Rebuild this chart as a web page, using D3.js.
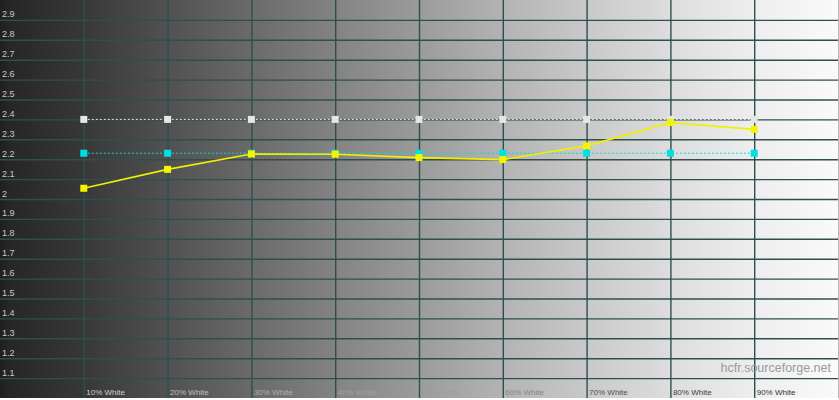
<!DOCTYPE html>
<html>
<head>
<meta charset="utf-8">
<script src="https://cdn.jsdelivr.net/npm/d3@7"></script>
<style>
  html, body { margin: 0; padding: 0; background: #ffffff; }
  svg { display: block; }
</style>
</head>
<body>
<svg id="chart" width="839" height="400"></svg>
<script>
// ---- data ----
const categories = ["10% White","20% White","30% White","40% White","50% White","60% White","70% White","80% White","90% White"];
const levels = [10, 20, 30, 40, 50, 60, 70, 80, 90];
const measuredGamma = [2.054, 2.149, 2.226, 2.225, 2.208, 2.198, 2.267, 2.384, 2.350];
const referenceGamma = [2.23, 2.23, 2.23, 2.23, 2.23, 2.23, 2.23, 2.23, 2.23];
const targetGamma = [2.4, 2.4, 2.4, 2.4, 2.4, 2.4, 2.4, 2.4, 2.4];
const yTicks = [2.9, 2.8, 2.7, 2.6, 2.5, 2.4, 2.3, 2.2, 2.1, 2.0, 1.9, 1.8, 1.7, 1.6, 1.5, 1.4, 1.3, 1.2, 1.1];
const yTickLabels = ["2.9","2.8","2.7","2.6","2.5","2.4","2.3","2.2","2.1","2","1.9","1.8","1.7","1.6","1.5","1.4","1.3","1.2","1.1"];
const watermark = "hcfr.sourceforge.net";

// ---- layout ----
const W = 838, H = 398;
const svg = d3.select("#chart");
const x = d3.scaleLinear().domain([0, 100]).range([0, W]);
const y = d3.scaleLinear().domain([3.0, 1.0]).range([0, H]);

// background gradient
const defs = svg.append("defs");
const grad = defs.append("linearGradient").attr("id", "bg").attr("x1", "0%").attr("x2", "100%").attr("y1", "0%").attr("y2", "0%");
const bgStops = [[0, "#1f1f1f"], [1, "#262626"], [10, "#383838"], [20, "#515151"], [30, "#6a6a6a"], [40, "#838383"], [50, "#9b9b9b"], [60, "#b3b3b3"], [70, "#c9c9c9"], [80, "#dddddd"], [90, "#eeeeee"], [100, "#fafafa"]];
bgStops.forEach(s => grad.append("stop").attr("offset", s[0] + "%").attr("stop-color", s[1]));
svg.append("rect").attr("x", 0).attr("y", 0).attr("width", W).attr("height", H).attr("fill", "url(#bg)");

const gridColor = "#2f4f4f";

// horizontal grid + y labels via axis
const yAxis = d3.axisRight(y).tickValues(yTicks).tickSize(W).tickFormat((d, i) => yTickLabels[i]);
const gy = svg.append("g").attr("class", "yaxis").call(yAxis);
gy.select(".domain").remove();
gy.selectAll(".tick line").attr("stroke", gridColor).attr("stroke-width", 1.4);
gy.selectAll(".tick text")
  .attr("x", 2).attr("dy", -3).attr("text-anchor", "start")
  .attr("fill", "#c8c8c8").style("font-family", "Liberation Sans, Arial, sans-serif").style("font-size", "9px");

// vertical grid + x labels via axis
const labelColor = d3.scaleLinear().domain([0, 30, 45, 55, 70, 100]).range(["#e0e0e0", "#b0b0b0", "#9a9a9a", "#a4a4a4", "#505050", "#202020"]);
const xAxis = d3.axisBottom(x).tickValues(levels).tickSize(H).tickFormat((d, i) => categories[i]);
const gx = svg.append("g").attr("class", "xaxis").call(xAxis);
gx.select(".domain").remove();
gx.selectAll(".tick line").attr("stroke", gridColor).attr("stroke-width", 1.4);
gx.selectAll(".tick text")
  .attr("y", 0).attr("dy", 0)
  .attr("transform", `translate(2, ${H - 3})`)
  .attr("text-anchor", "start")
  .attr("fill", d => labelColor(d))
  .style("font-family", "Liberation Sans, Arial, sans-serif").style("font-size", "8px");

// right border
svg.append("line").attr("x1", W + 0.5).attr("x2", W + 0.5).attr("y1", 0).attr("y2", H).attr("stroke", "#b8b8b8").attr("stroke-width", 1);

// watermark
svg.append("text").attr("x", 831).attr("y", 372).attr("text-anchor", "end")
  .attr("fill", "#9a9a9a").style("font-family", "Liberation Sans, Arial, sans-serif")
  .style("font-size", "12.5px").text(watermark);

// series
function drawSeries(values, color, dash, width, markerColor) {
  const line = d3.line().x((d, i) => x(levels[i])).y(d => y(d));
  svg.append("path").datum(values).attr("d", line).attr("fill", "none")
    .attr("stroke", color).attr("stroke-width", width).attr("stroke-dasharray", dash);
  svg.append("g").selectAll("rect").data(values).join("rect")
    .attr("x", (d, i) => x(levels[i]) - 3.5).attr("y", d => y(d) - 3.5)
    .attr("width", 7).attr("height", 7).attr("fill", markerColor);
}
drawSeries(targetGamma, "#e8e8e8", "2,2", 1, "#e6e6e6");
drawSeries(referenceGamma, "#00dede", "2,2", 1, "#00e0e0");
drawSeries(measuredGamma, "#f0f000", null, 1.7, "#f5f500");
</script>
</body>
</html>
